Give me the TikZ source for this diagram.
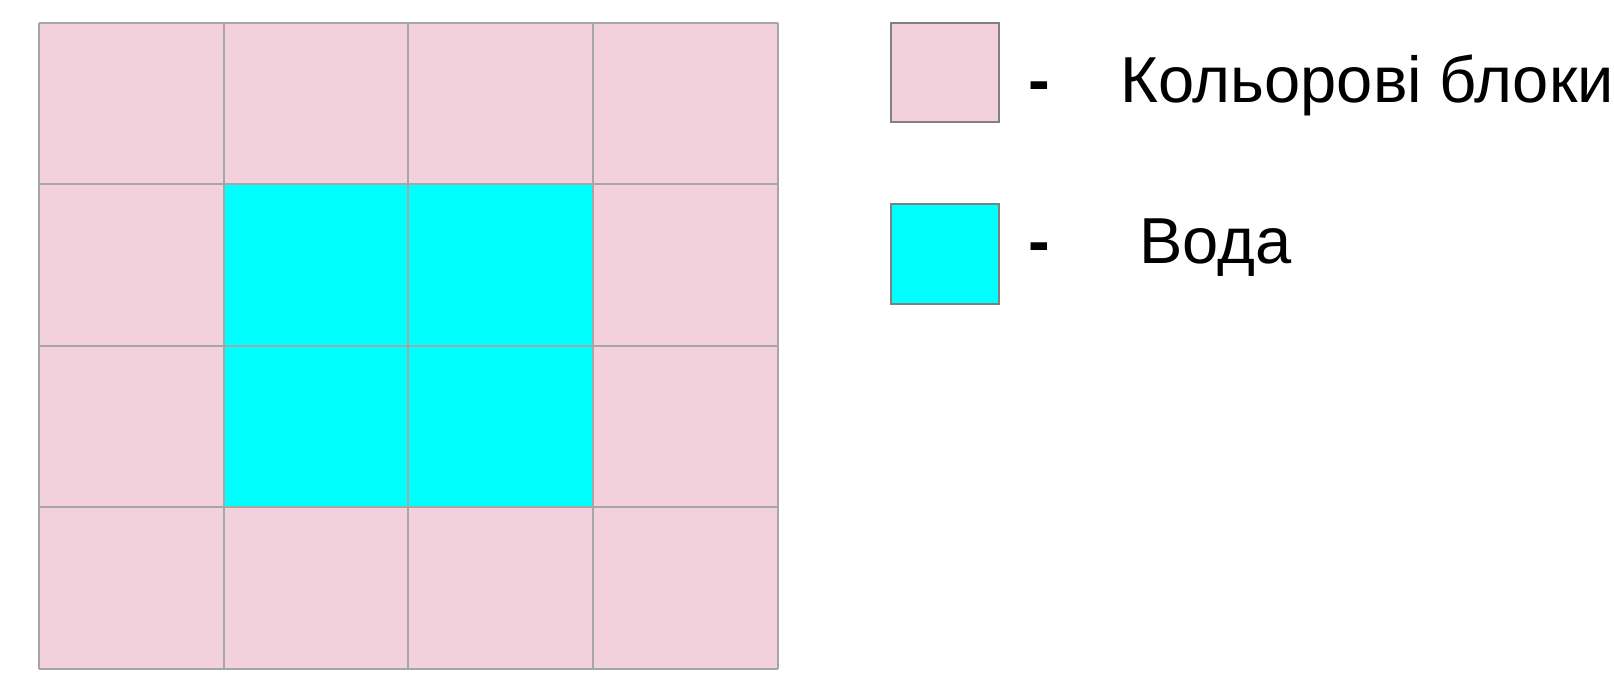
\documentclass[tikz,border=0pt]{standalone}
\usepackage{fontspec}
\setmainfont{Liberation Sans}
\definecolor{blockpink}{HTML}{F2D1DC}
\definecolor{water}{HTML}{00FFFF}
\definecolor{gridgray}{HTML}{A6A6A6}
\definecolor{legendgray}{HTML}{808080}
\begin{document}
\begin{tikzpicture}[x=1pt,y=-1pt,
  cellline/.style={draw=gridgray,line width=2pt},
  legendbox/.style={draw=legendgray,line width=2pt},
  legendtext/.style={anchor=base west,inner sep=0pt,font=\fontsize{65}{78}\selectfont}]
\useasboundingbox (0,0) rectangle (1614,674);
% grid background
\fill[blockpink] (39,22.7) rectangle (777.7,668.7);
\fill[water] (223.7,184.2) rectangle (593,507.2);
% grid lines
\foreach \x in {39,223.7,408.4,593,777.7}
  \draw[cellline] (\x,22.7) -- (\x,668.7);
\foreach \y in {22.7,184.2,345.7,507.2,668.7}
  \draw[cellline] (39,\y) -- (777.7,\y);
% legend
\filldraw[legendbox,fill=blockpink] (890.7,22.7) rectangle (999,121.7);
\filldraw[legendbox,fill=water] (890.7,204.3) rectangle (999,304);
\node[legendtext,font=\fontsize{65}{78}\selectfont\bfseries] (d1) at (1028,102.7) {-};
\node[legendtext] (t1) at (1120,102.7) {Кольорові блоки};
\node[legendtext,font=\fontsize{65}{78}\selectfont\bfseries] (d2) at (1028,263.3) {-};
\node[legendtext] (t2) at (1139,263.3) {Вода};
\end{tikzpicture}
\end{document}
